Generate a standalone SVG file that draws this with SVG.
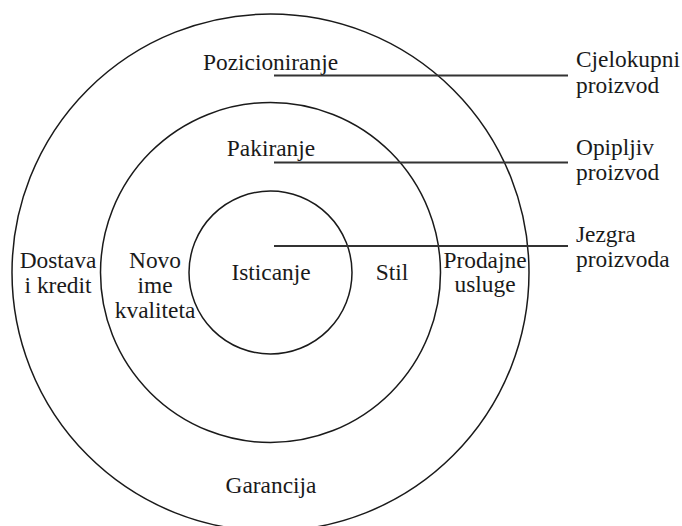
<svg xmlns="http://www.w3.org/2000/svg" width="682" height="526" viewBox="0 0 682 526" font-family="'Liberation Serif', 'DejaVu Serif', serif">
<style>
.ring{fill:none;stroke:#1a1a1a;stroke-width:1.5}
.lead{stroke:#333;stroke-width:1.8}
.t{font-family:'Liberation Serif','DejaVu Serif',serif;font-size:23.4px;fill:#1a1a1a}
.m{text-anchor:middle}
</style>
<rect width="682" height="526" fill="#fff"/>
<g id="ring-outer"><circle class="ring" cx="270.5" cy="272.5" r="258.5"/>
<text class="t m" x="270.5" y="70">Pozicioniranje</text>
<text class="t m" x="58" y="268">Dostava</text><text class="t m" x="58" y="293">i kredit</text>
<text class="t m" x="485" y="268">Prodajne</text><text class="t m" x="485" y="292">usluge</text>
<text class="t m" x="271" y="493">Garancija</text></g>
<g id="ring-middle"><circle class="ring" cx="270.5" cy="272.5" r="170"/>
<text class="t m" x="271" y="156">Pakiranje</text>
<text class="t m" x="155" y="268">Novo</text><text class="t m" x="155" y="293">ime</text><text class="t m" x="155" y="318">kvaliteta</text>
<text class="t m" x="392" y="280">Stil</text></g>
<g id="ring-inner"><circle class="ring" cx="270.5" cy="272.5" r="81.5"/>
<text class="t m" x="271" y="280">Isticanje</text></g>
<g id="connectors">
<line class="lead" x1="274" y1="75.5" x2="568" y2="75.5"/>
<line class="lead" x1="274" y1="162.5" x2="568" y2="162.5"/>
<line class="lead" x1="274" y1="246" x2="568" y2="246"/>
</g>
<g id="label-total"><text class="t" x="576" y="67">Cjelokupni</text><text class="t" x="576" y="93">proizvod</text></g>
<g id="label-tangible"><text class="t" x="576" y="155">Opipljiv</text><text class="t" x="576" y="180">proizvod</text></g>
<g id="label-core"><text class="t" x="576" y="242">Jezgra</text><text class="t" x="576" y="267">proizvoda</text></g>
</svg>
